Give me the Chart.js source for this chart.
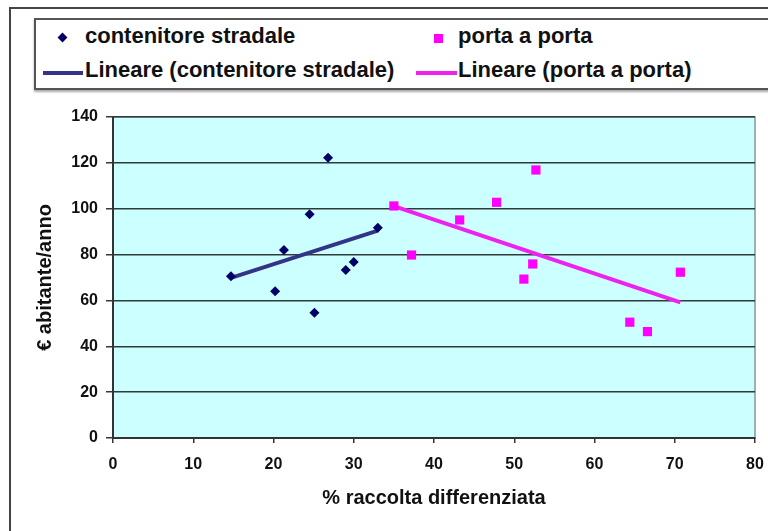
<!DOCTYPE html>
<html>
<head>
<meta charset="utf-8">
<script src="https://cdn.jsdelivr.net/npm/chart.js@4/dist/chart.umd.min.js"></script>
<style>
  html, body { margin: 0; padding: 0; width: 768px; height: 531px; overflow: hidden; background: #fff; }
  #frame { position: absolute; left: 9px; top: 7px; width: 800px; height: 600px; border: 2px solid #444; box-sizing: border-box; }
  #legendBox { position: absolute; left: 34px; top: 18px; width: 800px; height: 72px; border: 2px solid #555; box-sizing: border-box; box-shadow: 0 2px 2px #aaa; background: #fff; }
  .item { position: absolute; font: bold 22px "Liberation Sans", Arial, sans-serif; color: #111; white-space: nowrap; line-height: 22px; }
  .diamond { position: absolute; width: 7px; height: 7px; background: #000066; transform: rotate(45deg); }
  .square { position: absolute; width: 9px; height: 9px; background: #ff00ff; }
  .bar { position: absolute; height: 4px; }
  canvas { position: absolute; left: 0; top: 0; }
</style>
</head>
<body>
<div id="frame"></div>
<div id="legendBox"></div>
<div class="diamond" style="left:59px; top:34px;"></div>
<div class="item" style="left:85px; top:25px;">contenitore stradale</div>
<div class="square" style="left:434px; top:34px;"></div>
<div class="item" style="left:458px; top:25px;">porta a porta</div>
<div class="bar" style="left:43px; top:71px; width:40px; background:#333388;"></div>
<div class="item" style="left:85px; top:59px;">Lineare (contenitore stradale)</div>
<div class="bar" style="left:416px; top:71px; width:41px; background:#ee22ee;"></div>
<div class="item" style="left:458px; top:59px;">Lineare (porta a porta)</div>
<canvas id="chart" width="768" height="531"></canvas>
<script>
// % raccolta differenziata vs € abitante/anno, per comune
const stradaleX = [14.7, 20.2, 21.3, 24.5, 25.1, 26.8, 29.0, 30.0, 33.0];
const stradaleY = [70.5, 64.0, 82.0, 97.6, 54.6, 122.2, 73.3, 76.8, 91.7];
const portaX = [35.0, 37.2, 43.2, 47.8, 51.2, 52.3, 52.7, 64.4, 66.6, 70.7];
const portaY = [101.2, 79.8, 95.1, 102.8, 69.3, 75.9, 116.9, 50.5, 46.4, 72.3];

const xTicks = [0, 10, 20, 30, 40, 50, 60, 70, 80];
const yTicks = [0, 20, 40, 60, 80, 100, 120, 140];

function toPoints(xs, ys) {
  return xs.map((x, i) => ({ x: x, y: ys[i] }));
}

// least-squares linear trend, spanning the series' x range
function linearTrend(xs, ys) {
  const n = xs.length;
  const mx = xs.reduce((a, b) => a + b, 0) / n;
  const my = ys.reduce((a, b) => a + b, 0) / n;
  let sxy = 0, sxx = 0;
  for (let i = 0; i < n; i++) {
    sxy += (xs[i] - mx) * (ys[i] - my);
    sxx += (xs[i] - mx) * (xs[i] - mx);
  }
  const slope = sxy / sxx;
  const x0 = Math.min(...xs), x1 = Math.max(...xs);
  return [
    { x: x0, y: my + slope * (x0 - mx) },
    { x: x1, y: my + slope * (x1 - mx) }
  ];
}

const plotBackground = {
  id: 'plotBackground',
  beforeDraw(chart) {
    const { ctx, chartArea: a } = chart;
    ctx.save();
    ctx.fillStyle = '#ccffff';
    ctx.fillRect(a.left, a.top, a.right - a.left, a.bottom - a.top);
    ctx.strokeStyle = '#8a9696';
    ctx.lineWidth = 1.5;
    ctx.strokeRect(a.left, a.top, a.right - a.left, a.bottom - a.top);
    ctx.restore();
  }
};

const tickFont = { family: '"Liberation Sans", Arial, sans-serif', size: 16, weight: 'bold' };
const titleFont = { family: '"Liberation Sans", Arial, sans-serif', size: 20, weight: 'bold' };

new Chart(document.getElementById('chart'), {
  type: 'scatter',
  data: {
    datasets: [
      {
        label: 'contenitore stradale',
        data: toPoints(stradaleX, stradaleY),
        pointStyle: 'rectRot',
        pointRadius: 5,
        backgroundColor: '#000066',
        borderWidth: 0,
        order: 0
      },
      {
        label: 'porta a porta',
        data: toPoints(portaX, portaY),
        pointStyle: 'rect',
        pointRadius: 6.5,
        backgroundColor: '#ff00ff',
        borderWidth: 0,
        order: 0
      },
      {
        label: 'Lineare (contenitore stradale)',
        data: linearTrend(stradaleX, stradaleY),
        showLine: true,
        borderColor: '#333388',
        borderWidth: 4,
        pointRadius: 0,
        order: 1
      },
      {
        label: 'Lineare (porta a porta)',
        data: linearTrend(portaX, portaY),
        showLine: true,
        borderColor: '#ee22ee',
        borderWidth: 4,
        pointRadius: 0,
        order: 1
      }
    ]
  },
  options: {
    responsive: false,
    animation: false,
    layout: { padding: { top: 117, right: 13, left: 0, bottom: 0 } },
    plugins: { legend: { display: false }, tooltip: { enabled: false } },
    scales: {
      x: {
        type: 'linear',
        min: xTicks[0],
        max: xTicks[xTicks.length - 1],
        afterBuildTicks: s => { s.ticks = xTicks.map(v => ({ value: v })); },
        afterFit: s => { s.height = 93; s.paddingLeft = 0; s.paddingRight = 0; },
        ticks: { font: tickFont, color: '#111', padding: 12, maxRotation: 0 },
        grid: { drawOnChartArea: false, drawTicks: true, tickLength: 5, color: '#333', lineWidth: 1.5 },
        border: { display: true, color: '#333', width: 2 },
        title: { display: true, text: '% raccolta differenziata', font: titleFont, color: '#111', padding: { top: 0, bottom: 21 } }
      },
      y: {
        type: 'linear',
        min: yTicks[0],
        max: yTicks[yTicks.length - 1],
        afterBuildTicks: s => { s.ticks = yTicks.map(v => ({ value: v })); },
        afterFit: s => { s.width = 113; s.paddingTop = 0; s.paddingBottom = 0; },
        ticks: { font: tickFont, color: '#111', padding: 8 },
        grid: { drawTicks: true, tickLength: 7, color: '#2f3b3b', lineWidth: 1.5 },
        border: { display: true, color: '#333', width: 2 },
        title: { display: true, text: '€ abitante/anno', font: titleFont, color: '#111', padding: { top: 33, bottom: 0 } }
      }
    }
  },
  plugins: [plotBackground]
});
</script>
</body>
</html>
